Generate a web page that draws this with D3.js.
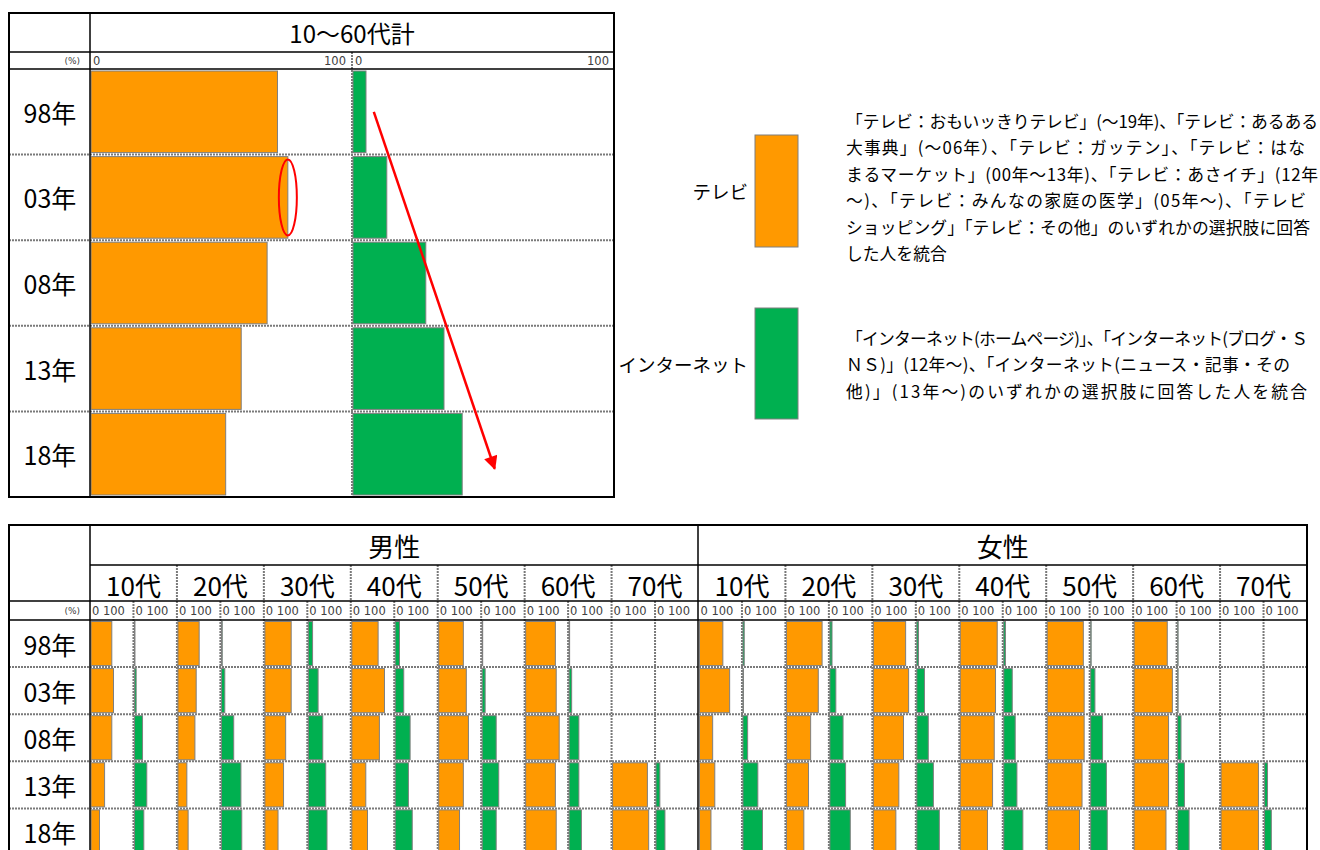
<!DOCTYPE html>
<html>
<head>
<meta charset="utf-8">
<script src="https://cdn.jsdelivr.net/npm/d3@7"></script>
<style>
  body { margin: 0; background: #fff; }
  text { font-family: "Noto Sans CJK JP", "Noto Sans", sans-serif; }
  text.tick { font-family: "DejaVu Sans", sans-serif; font-size: 11.5px; fill: #404040; }
</style>
</head>
<body>
<svg id="chart" width="1320" height="850"></svg>
<script>
// ---- data (%) ----
const years = ["98年", "03年", "08年", "13年", "18年"];
const ages = ["10代", "20代", "30代", "40代", "50代", "60代", "70代"];
const sexes = ["男性", "女性"];
const tickLabels = ["0", "100"];

const totalTitle = "10～60代計";
const totalTV = [72, 76, 68, 58, 52];
const totalNet = [5, 13, 28, 35, 42];

// one array per age group, values by year (null = not surveyed)
const maleTV = [
  [49, 53, 49, 32, 20],
  [50, 43, 40, 21, 24],
  [62, 62, 49, 44, 31],
  [62, 77, 65, 33, 37],
  [58, 65, 70, 58, 49],
  [70, 72, 79, 70, 72],
  [null, null, null, 82, 85]
];
const maleNet = [
  [0, 4, 19, 29, 22],
  [2, 8, 29, 46, 48],
  [10, 23, 34, 41, 44],
  [10, 20, 35, 31, 40],
  [0, 7, 33, 39, 33],
  [0, 6, 23, 23, 29],
  [null, null, null, 9, 21]
];
const femaleTV = [
  [55, 71, 31, 36, 27],
  [84, 75, 57, 52, 41],
  [76, 83, 71, 60, 53],
  [87, 83, 80, 76, 64],
  [85, 87, 87, 82, 76],
  [78, 90, 81, 81, 75],
  [null, null, null, 88, 88]
];
const femaleNet = [
  [3, 0, 11, 35, 46],
  [5, 14, 31, 37, 48],
  [4, 18, 27, 39, 53],
  [4, 20, 27, 31, 45],
  [1, 10, 28, 37, 39],
  [0, 0, 8, 16, 27],
  [null, null, null, 7, 16]
];

const legendNames = ["テレビ", "インターネット"];
const legendNotes = [
  ["「テレビ：おもいッきりテレビ」(～19年)、「テレビ：あるある",
   "大事典」(～06年）、「テレビ：ガッテン」、「テレビ：はな",
   "まるマーケット」(00年～13年)、「テレビ：あさイチ」(12年",
   "～)、「テレビ：みんなの家庭の医学」(05年～)、「テレビ",
   "ショッピング」「テレビ：その他」のいずれかの選択肢に回答",
   "した人を統合"],
  ["「インターネット(ホームページ)」、「インターネット(ブログ・Ｓ",
   "ＮＳ)」(12年～)、「インターネット(ニュース・記事・その",
   "他)」(13年～)のいずれかの選択肢に回答した人を統合"]
];
// rendered width of each wrapped line (null = natural width)
const noteWidths = [[472, 459, 472, 460, 464, null], [462, 444, 461]];

// ---- styles ----
const ORANGE = "#ff9900", GREEN = "#00b050", BAR_EDGE = "#7f7f7f";
const DOT = "#7a7a7a";

const svg = d3.select("#chart");
const gGrid = svg.append("g");
const gBars = svg.append("g");
const gLines = svg.append("g");
const gText = svg.append("g");

const dotted = (x1, y1, x2, y2) => gGrid.append("line")
  .attr("x1", x1).attr("y1", y1).attr("x2", x2).attr("y2", y2)
  .attr("stroke", DOT).attr("stroke-width", 2).attr("stroke-dasharray", "2 1");
const solid = (x1, y1, x2, y2, w = 1.5) => gLines.append("line")
  .attr("x1", x1).attr("y1", y1).attr("x2", x2).attr("y2", y2)
  .attr("stroke", "#000").attr("stroke-width", w);
const label = (x, y, s, size, anchor = "middle") => gText.append("text")
  .attr("x", x).attr("y", y).attr("text-anchor", anchor)
  .attr("dominant-baseline", "central").style("font-size", size + "px").text(s);

function bars(g, data, x, y, fill, inset) {
  g.selectAll(null)
    .data(data.map((v, i) => ({ v, yr: years[i] })).filter(d => d.v !== null))
    .enter().append("rect")
    .attr("x", x(0))
    .attr("y", d => y(d.yr) + inset)
    .attr("width", d => Math.max(x(d.v) - x(0), 0.5))
    .attr("height", y.bandwidth() - inset * 2)
    .attr("fill", fill)
    .attr("stroke", BAR_EDGE).attr("stroke-width", 1);
}

// =============== top panel: 10～60代計 ===============
const T = { x0: 9, x1: 614, xLab: 90, xMid: 352, y0: 13, yHead: 52, yTick: 69, y1: 497 };
const yTop = d3.scaleBand().domain(years).range([T.yTick, T.y1]);
const xTV = d3.scaleLinear().domain([0, 100]).range([T.xLab + 1, T.xMid - 2]);
const xNet = d3.scaleLinear().domain([0, 100]).range([T.xMid + 1, T.x1 - 1]);

years.slice(1).forEach(yr => dotted(T.x0, yTop(yr), T.x1, yTop(yr)));
dotted(T.xMid, T.yHead, T.xMid, T.y1);

bars(gBars, totalTV, xTV, yTop, ORANGE, 2);
bars(gBars, totalNet, xNet, yTop, GREEN, 2);

solid(T.x0, T.yHead, T.x1, T.yHead);
solid(T.x0, T.yTick, T.x1, T.yTick);
solid(T.xLab, T.y0, T.xLab, T.y1);
gLines.append("rect").attr("x", T.x0).attr("y", T.y0)
  .attr("width", T.x1 - T.x0).attr("height", T.y1 - T.y0)
  .attr("fill", "none").attr("stroke", "#000").attr("stroke-width", 2);

label((T.xLab + T.x1) / 2, (T.y0 + T.yHead) / 2, totalTitle, 24);
years.forEach(yr => label(50, yTop(yr) + yTop.bandwidth() / 2, yr, 25));
gText.append("text").attr("class", "tick").attr("x", 80).attr("y", 61)
  .attr("text-anchor", "end").attr("dominant-baseline", "central")
  .style("font-size", "9px").text("(%)");
[xTV, xNet].forEach(x => {
  gText.append("text").attr("class", "tick").attr("x", x(0) + 2).attr("y", 61)
    .attr("dominant-baseline", "central").text(tickLabels[0]);
  gText.append("text").attr("class", "tick").attr("x", x(100) - 4).attr("y", 61)
    .attr("text-anchor", "end").attr("dominant-baseline", "central").text(tickLabels[1]);
});

// annotations: red ellipse on 03 TV bar and red downward arrow
const red = svg.append("g");
red.append("ellipse")
  .attr("cx", xTV(totalTV[1])).attr("cy", yTop("03年") + yTop.bandwidth() / 2)
  .attr("rx", 9).attr("ry", 38)
  .attr("fill", "none").attr("stroke", "#ff0000").attr("stroke-width", 2);
svg.append("defs").append("marker")
  .attr("id", "arrow").attr("viewBox", "0 0 10 10")
  .attr("refX", 9).attr("refY", 5)
  .attr("markerWidth", 6.5).attr("markerHeight", 5.5).attr("markerUnits", "strokeWidth")
  .attr("orient", "auto")
  .append("path").attr("d", "M0,0 L10,5 L0,10 Z").attr("fill", "#ff0000");
red.append("line")
  .attr("x1", xNet(8)).attr("y1", yTop("98年") + yTop.bandwidth() * 0.5)
  .attr("x2", xNet(54.5)).attr("y2", yTop("18年") + yTop.bandwidth() * 0.67)
  .attr("stroke", "#ff0000").attr("stroke-width", 2.5)
  .attr("marker-end", "url(#arrow)");

// =============== legend ===============
const legColors = [ORANGE, GREEN];
const legRects = [[135, 247], [308, 419]];
legendNames.forEach((name, i) => {
  const [ya, yb] = legRects[i];
  gBars.append("rect").attr("x", 755).attr("y", ya)
    .attr("width", 43).attr("height", yb - ya)
    .attr("fill", legColors[i]).attr("stroke", BAR_EDGE).attr("stroke-width", 1);
  label(748, (ya + yb) / 2, name, 18.5, "end");
});
const noteTop = [121, 338];
legendNotes.forEach((lines, i) => {
  lines.forEach((s, j) => {
    const t = label(846, noteTop[i] + j * 26.4, s, 16.8, "start");
    if (noteWidths[i][j]) t.attr("textLength", noteWidths[i][j]).attr("lengthAdjust", "spacing");
  });
});

// =============== bottom panel: by sex and age ===============
const B = { x0: 9, x1: 1307, xLab: 90, xSplit: 698, y0: 525, ySex: 565, yAge: 601, yTick: 620, rowH: 47.1 };
const yBot = d3.scaleBand().domain(years).range([B.yTick, B.yTick + B.rowH * years.length]);
const yEnd = 860;
const sexBand = d3.scaleBand().domain(sexes).range([B.xLab, B.x1]);
const ageBand = d3.scaleBand().domain(ages).range([0, sexBand.bandwidth()]);
const subBand = d3.scaleBand().domain(["tv", "net"]).range([0, ageBand.bandwidth()]);

years.slice(1).forEach(yr => dotted(B.x0, yBot(yr), B.x1, yBot(yr)));
dotted(B.x0, yBot(years[4]) + B.rowH, B.x1, yBot(years[4]) + B.rowH);

const sexData = { "男性": [maleTV, maleNet], "女性": [femaleTV, femaleNet] };
sexes.forEach(sex => {
  const sx = sexBand(sex);
  label(sx + sexBand.bandwidth() / 2, (B.y0 + B.ySex) / 2, sex, 26);
  ages.forEach((age, a) => {
    const ax = sx + ageBand(age);
    if (a > 0) dotted(ax, B.ySex, ax, yEnd);
    label(ax + ageBand.bandwidth() / 2, (B.ySex + B.yAge) / 2 + 1, age, 26);
    ["tv", "net"].forEach((k, s) => {
      const cx = ax + subBand(k);
      if (s > 0) dotted(cx, B.yAge, cx, yEnd);
      const x = d3.scaleLinear().domain([0, 100]).range([cx + 1, cx + subBand.bandwidth()]);
      bars(gBars, sexData[sex][s][a], x, yBot, s === 0 ? ORANGE : GREEN, 1.5);
      gText.append("text").attr("class", "tick").attr("x", cx + 2).attr("y", 611)
        .attr("dominant-baseline", "central").text(tickLabels.join(" "));
    });
  });
});

solid(B.xLab, B.ySex, B.x1, B.ySex);
solid(B.x0, B.yAge, B.x1, B.yAge);
solid(B.x0, B.yTick, B.x1, B.yTick);
solid(B.xLab, B.y0, B.xLab, yEnd);
solid(B.xSplit, B.y0, B.xSplit, yEnd);
gLines.append("rect").attr("x", B.x0).attr("y", B.y0)
  .attr("width", B.x1 - B.x0).attr("height", yEnd - B.y0)
  .attr("fill", "none").attr("stroke", "#000").attr("stroke-width", 2);

gText.append("text").attr("class", "tick").attr("x", 80).attr("y", 611)
  .attr("text-anchor", "end").attr("dominant-baseline", "central")
  .style("font-size", "9px").text("(%)");
years.forEach(yr => label(50, yBot(yr) + yBot.bandwidth() / 2, yr, 25));
</script>
</body>
</html>
